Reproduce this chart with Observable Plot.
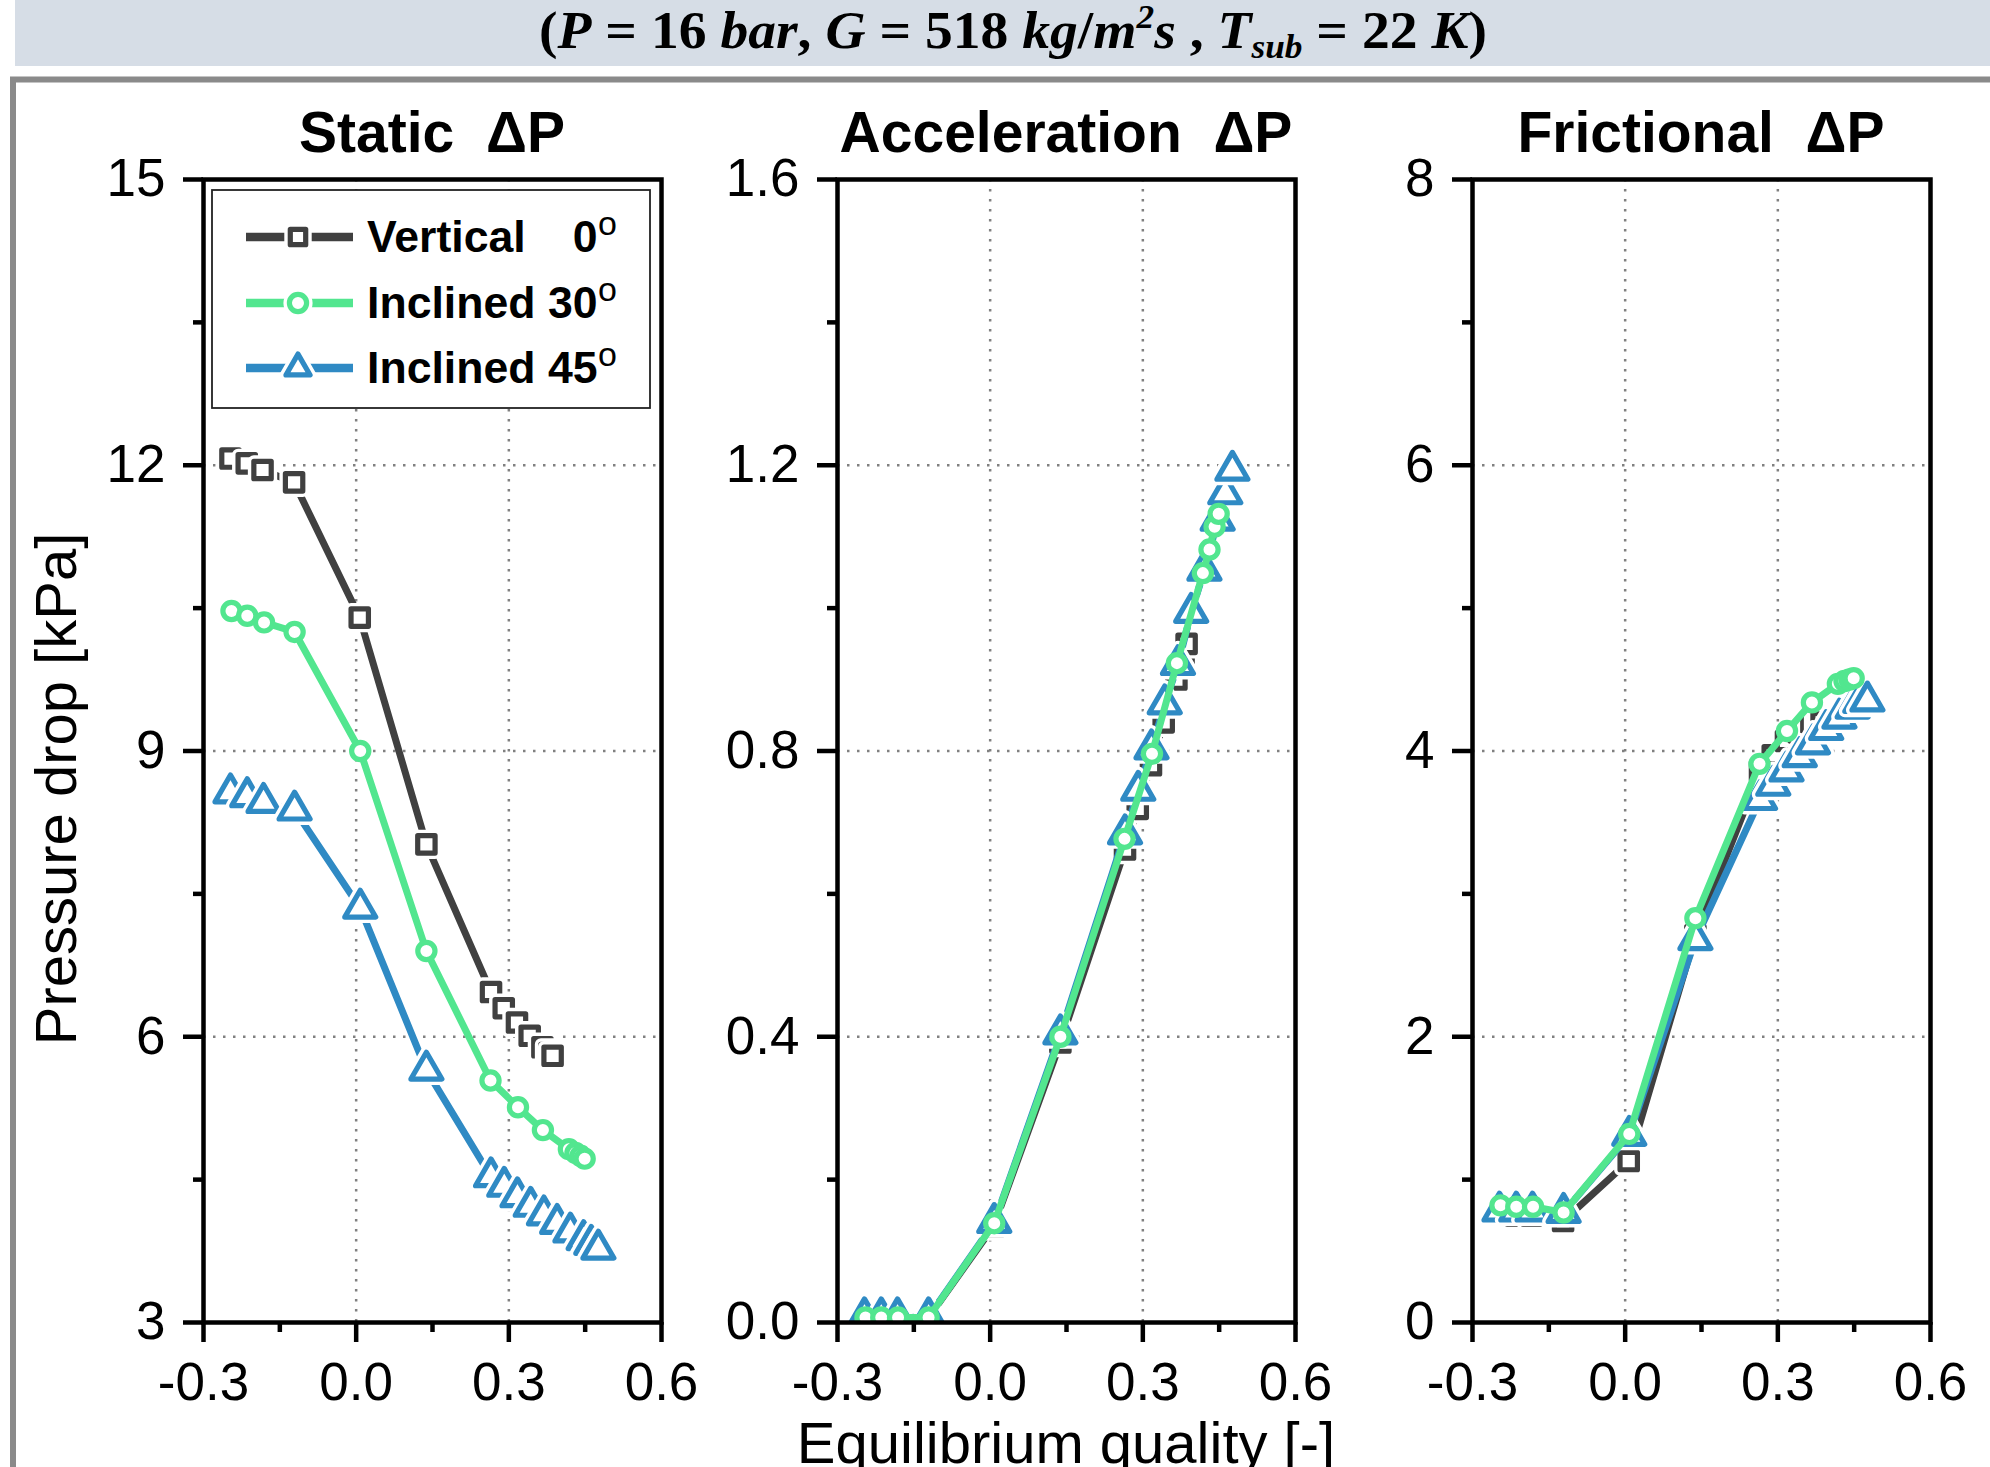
<!DOCTYPE html>
<html><head><meta charset="utf-8">
<script src="https://cdn.jsdelivr.net/npm/d3@7"></script>
<script src="https://cdn.jsdelivr.net/npm/@observablehq/plot@0.6"></script>
<style>
html,body{margin:0;padding:0;background:#fff;}
#root{position:relative;width:1990px;height:1467px;overflow:hidden;background:#fff;font-family:"Liberation Sans",Arial,sans-serif;}
.panel{position:absolute;}
#overlay{position:absolute;left:0;top:0;pointer-events:none;}
</style></head><body><div id="root"></div>
<script>
// ---------------- data ----------------
const seriesNames = ["Vertical", "Inclined 30", "Inclined 45"];
const seriesAngles = ["0", "30", "45"];
const seriesColors = ["#404040", "#52e68f", "#2f8ac4"];
const seriesSymbols = ["square", "circle", "triangle"];

const xVertical = [-0.247, -0.215, -0.184, -0.122, 0.007, 0.138, 0.265, 0.290, 0.316, 0.341, 0.366, 0.380, 0.386];
const xInc30    = [-0.245, -0.214, -0.181, -0.121, 0.008, 0.138, 0.264, 0.318, 0.367, 0.418, 0.431, 0.441, 0.449];
const xInc45    = [-0.247, -0.214, -0.182, -0.121, 0.008, 0.138, 0.265, 0.291, 0.317, 0.343, 0.369, 0.395, 0.421, 0.447, 0.462, 0.476];

const staticVertical = [12.07, 12.02, 11.95, 11.82, 10.40, 8.02, 6.47, 6.30, 6.15, 6.01, 5.89, 5.83, 5.80];
const staticInc30    = [10.47, 10.42, 10.35, 10.25, 9.00, 6.90, 5.54, 5.26, 5.02, 4.82, 4.78, 4.75, 4.72];
const staticInc45    = [8.56, 8.52, 8.46, 8.38, 7.35, 5.65, 4.53, 4.43, 4.32, 4.22, 4.13, 4.04, 3.95, 3.87, 3.82, 3.77];

const accelVertical = [0.006, 0.006, 0.006, 0.006, 0.135, 0.392, 0.662, 0.719, 0.780, 0.840, 0.900, 0.930, 0.950];
const accelInc30    = [0.007, 0.007, 0.007, 0.007, 0.139, 0.400, 0.677, 0.796, 0.923, 1.049, 1.082, 1.114, 1.132];
const accelInc45    = [0.008, 0.008, 0.008, 0.008, 0.140, 0.404, 0.684, 0.745, 0.803, 0.866, 0.921, 0.994, 1.053, 1.123, 1.160, 1.193];

const fricVertical = [0.76, 0.75, 0.75, 0.71, 1.13, 2.71, 3.86, 3.97, 4.07, 4.13, 4.17, 4.19, 4.20];
const fricInc30    = [0.82, 0.81, 0.81, 0.77, 1.32, 2.83, 3.91, 4.14, 4.34, 4.47, 4.49, 4.50, 4.51];
const fricInc45    = [0.78, 0.78, 0.78, 0.77, 1.31, 2.68, 3.66, 3.76, 3.86, 3.96, 4.05, 4.15, 4.23, 4.30, 4.34, 4.35];

const xTicks = [-0.3, 0, 0.3, 0.6];
const xMinorTicks = [-0.15, 0.15, 0.45];
const xGrid = [0, 0.3];

const panelTitles = ["Static  \u0394P", "Acceleration  \u0394P", "Frictional  \u0394P"];
const yDomains = [[3, 15], [0, 1.6], [0, 8]];
const yTicks = [[3, 6, 9, 12, 15], [0, 0.4, 0.8, 1.2, 1.6], [0, 2, 4, 6, 8]];
const yMinorTicks = [[4.5, 7.5, 10.5, 13.5], [0.2, 0.6, 1.0, 1.4], [1, 3, 5, 7]];
const yGrid = [[6, 9, 12], [0.4, 0.8, 1.2], [2, 4, 6]];
const yFormats = [d => String(d), d => d.toFixed(1), d => String(d)];

// header pieces: [text, style] (i = italic, n = upright, sup, sub)
const headerParts = [["(", "n"], ["P", "i"], [" = ", "n"], ["16", "n"], [" ", "n"], ["bar", "i"], [", ", "n"], ["G", "i"], [" = ", "n"],
  ["518", "n"], [" ", "n"], ["kg", "i"], ["/", "n"], ["m", "i"], ["2", "sup"], ["s", "i"], [" , ", "n"], ["T", "i"], ["sub", "sub"],
  [" = ", "n"], ["22", "n"], [" ", "n"], ["K", "i"], [")", "n"]];
const xLabel = "Equilibrium quality [-]";
const yLabel = "Pressure drop [kPa]";

// ---------------- build ----------------
const xs = [xVertical, xInc30, xInc45];
const panelValues = [
  [staticVertical, staticInc30, staticInc45],
  [accelVertical, accelInc30, accelInc45],
  [fricVertical, fricInc30, fricInc45]
];
const drawOrder = [0, 2, 1];

const root = document.getElementById("root");
const frameLefts = [203, 837, 1472];
const frameTop = 179, frameW = 458, frameH = 1143;
const mL = 140, mR = 50, mT = 100, mB = 100;
const fontSize = 53;
const lineW = 7, mkW = 5.2, haloW = 12;
const mkR = [9.8, 8.6, 11.5];

panelValues.forEach((vals, p) => {
  const marks = [
    Plot.gridX(xGrid, {stroke: "#808080", strokeOpacity: 1, strokeWidth: 2.5, strokeDasharray: "2.5 7.5"}),
    Plot.gridY(yGrid[p], {stroke: "#808080", strokeOpacity: 1, strokeWidth: 2.5, strokeDasharray: "2.5 7.5"})
  ];
  drawOrder.forEach(s => {
    const rows = xs[s].map((x, i) => ({x, y: vals[s][i]}));
    marks.push(Plot.line(rows, {x: "x", y: "y", stroke: seriesColors[s], strokeWidth: lineW, clip: true}));
    marks.push(Plot.dot(rows, {x: "x", y: "y", symbol: seriesSymbols[s], r: mkR[s], stroke: seriesColors[s],
      strokeWidth: mkW, fill: "white", strokeLinejoin: "round", clip: true, className: "mk"}));
  });
  marks.push(Plot.frame({stroke: "black", strokeWidth: 4.5}));
  marks.push(Plot.axisX(xTicks, {tickSize: 20, tickPadding: 20, strokeWidth: 4.5, tickFormat: d => d.toFixed(1), fontSize, label: null}));
  marks.push(Plot.axisX(xMinorTicks, {tickSize: 10, strokeWidth: 4.5, text: null, label: null}));
  marks.push(Plot.axisY(yTicks[p], {tickSize: 20, tickPadding: 18, strokeWidth: 4.5, tickFormat: yFormats[p], fontSize, label: null}));
  marks.push(Plot.axisY(yMinorTicks[p], {tickSize: 10, strokeWidth: 4.5, text: null, label: null}));

  const chart = Plot.plot({
    width: mL + frameW + mR, height: mT + frameH + mB,
    marginLeft: mL, marginRight: mR, marginTop: mT, marginBottom: mB,
    x: {domain: [-0.3, 0.6], label: null},
    y: {domain: yDomains[p], label: null},
    style: {fontFamily: "'Liberation Sans', Arial, sans-serif", fontSize: fontSize + "px", background: "none", color: "black", overflow: "visible"},
    marks
  });
  chart.classList.add("panel");
  chart.style.left = (frameLefts[p] - mL) + "px";
  chart.style.top = (frameTop - mT) + "px";
  // white halos behind each marker (gap between line and symbol)
  d3.select(chart).selectAll("g.mk path").each(function() {
    const c = this.cloneNode(true);
    c.setAttribute("stroke", "white");
    c.setAttribute("stroke-width", String(haloW));
    c.setAttribute("fill", "white");
    this.parentNode.insertBefore(c, this);
  });
  root.appendChild(chart);
});

// ---------------- overlay: header, titles, labels, legend ----------------
const svg = d3.select(root).append("svg").attr("id", "overlay").attr("width", 1990).attr("height", 1467);
svg.append("rect").attr("x", 15).attr("y", 0).attr("width", 1975).attr("height", 66).attr("fill", "#d6dde6");
svg.append("path").attr("d", "M13,1470V79.5H1995").attr("fill", "none").attr("stroke", "#8a8a8a").attr("stroke-width", 6);

const ht = svg.append("text").attr("x", 1013).attr("y", 48).attr("text-anchor", "middle")
  .attr("font-family", "'Liberation Serif', 'DejaVu Serif', serif").attr("font-weight", "bold")
  .attr("font-size", 52).attr("textLength", 948).attr("lengthAdjust", "spacingAndGlyphs")
  .style("white-space", "pre");
let shift = 0;
headerParts.forEach(([t, st]) => {
  const sp = ht.append("tspan").text(t);
  let target = 0;
  if (st === "sup") { sp.attr("font-size", 33).attr("font-style", "italic"); target = -20; }
  else if (st === "sub") { sp.attr("font-size", 33).attr("font-style", "italic"); target = 10; }
  else sp.attr("font-style", st === "i" ? "italic" : "normal");
  if (target !== shift) { sp.attr("dy", target - shift); shift = target; }
});

const centers = frameLefts.map(l => l + frameW / 2);
panelTitles.forEach((t, i) => {
  svg.append("text").attr("x", centers[i]).attr("y", 152).attr("text-anchor", "middle")
    .attr("font-weight", "bold").attr("font-size", 57).style("white-space", "pre")
    .attr("font-family", "'Liberation Sans', Arial, sans-serif").text(t);
});
svg.append("text").attr("x", centers[1]).attr("y", 1463).attr("text-anchor", "middle")
  .attr("font-size", 58).attr("font-family", "'Liberation Sans', Arial, sans-serif").text(xLabel);
svg.append("text").attr("transform", "translate(76,789) rotate(-90)").attr("text-anchor", "middle")
  .attr("font-size", 58).attr("font-family", "'Liberation Sans', Arial, sans-serif").text(yLabel);

// legend
const lg = svg.append("g");
lg.append("rect").attr("x", 212).attr("y", 190).attr("width", 438).attr("height", 218)
  .attr("fill", "white").attr("stroke", "#222").attr("stroke-width", 1.8);
const rowY = [237, 303, 368];
const d3sym = {square: d3.symbolSquare2, circle: d3.symbolCircle, triangle: d3.symbolTriangle2};
[0, 1, 2].forEach(s => {
  const y = rowY[s];
  lg.append("line").attr("x1", 246).attr("x2", 353).attr("y1", y).attr("y2", y)
    .attr("stroke", seriesColors[s]).attr("stroke-width", 8.5);
  const path = d3.symbol(d3sym[seriesSymbols[s]], Math.PI * mkR[s] * mkR[s])();
  lg.append("path").attr("d", path).attr("transform", `translate(298,${y})`)
    .attr("fill", "white").attr("stroke", "white").attr("stroke-width", haloW);
  lg.append("path").attr("d", path).attr("transform", `translate(298,${y})`)
    .attr("fill", "white").attr("stroke", seriesColors[s]).attr("stroke-width", mkW).attr("stroke-linejoin", "round");
  const base = y + 15;
  const fam = "'Liberation Sans', Arial, sans-serif";
  lg.append("text").attr("x", 367).attr("y", base).attr("font-family", fam).attr("font-weight", "bold")
    .attr("font-size", 44.6).style("white-space", "pre").text(seriesNames[s]);
  if (s === 0) {
    lg.append("text").attr("x", 597.6).attr("y", base).attr("text-anchor", "end").attr("font-family", fam)
      .attr("font-weight", "bold").attr("font-size", 44.6).text(seriesAngles[s]);
  }
  lg.append("text").attr("x", 598).attr("y", base - 17).attr("font-family", fam).attr("font-size", 34).text("o");
});
</script></body></html>
